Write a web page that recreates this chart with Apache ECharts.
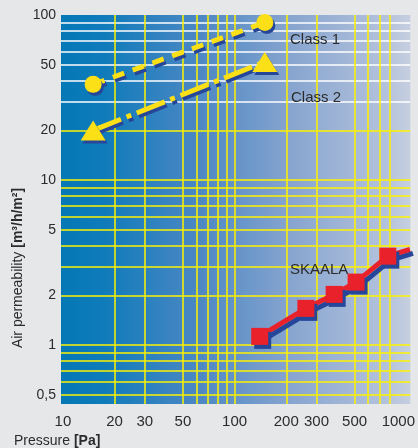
<!DOCTYPE html>
<html><head><meta charset="utf-8">
<script src="https://cdn.jsdelivr.net/npm/echarts@6/dist/echarts.min.js"></script>
<style>html,body{margin:0;padding:0;background:#e6e7e9;}#c{width:418px;height:448px;}</style>
</head><body><div id="c"></div>
<script>
// Axis tick labels
const xTickLabels = [10, 20, 30, 50, 100, 200, 300, 500, 1000];
const yTickLabels = [0.5, 1, 2, 5, 10, 20, 50, 100];
// Grid line values
const xGridValues = [20, 30, 50, 60, 70, 80, 90, 100, 200, 300, 500, 600, 700, 800];
const yGridValues = [0.5, 0.6, 0.7, 0.8, 0.9, 1, 2, 3, 4, 5, 6, 7, 8, 9, 10, 20, 30, 40, 50, 60, 70, 80, 90];
// Series
const class1Pressure = [15, 150];
const class1Perm = [38, 90];
const class2Pressure = [15, 150];
const class2Perm = [20, 52];
const skaalaPressure = [140, 260, 380, 510, 780, 1050];
const skaalaPerm = [1.13, 1.67, 2.03, 2.41, 3.46, 3.8];

const FONT = "'Liberation Sans', Arial, sans-serif";
const YEL = '#fbe017';
const SHADOW = '#26469a';

function pairs(xs, ys) { return xs.map((x, i) => [x, ys[i]]); }

const chart = echarts.init(document.getElementById('c'), null, {renderer: 'canvas'});
const shadowStyle = {shadowColor: SHADOW, shadowBlur: 0, shadowOffsetX: 2, shadowOffsetY: 3};

chart.setOption({
  animation: false,
  backgroundColor: '#e6e7e9',
  grid: {
    left: 61, top: 15, right: 5, bottom: 44, show: true, borderWidth: 0,
    backgroundColor: {
      type: 'linear', x: 0, y: 0, x2: 1, y2: 0,
      colorStops: [
        {offset: 0, color: '#0478b6'},
        {offset: 0.12, color: '#0f7bba'},
        {offset: 0.4, color: '#4d88c4'},
        {offset: 0.65, color: '#86a4cf'},
        {offset: 0.93, color: '#b3c2dc'},
        {offset: 1, color: '#c6cfdf'}
      ]
    }
  },
  xAxis: {
    type: 'log', logBase: 10, min: 9.75, max: 1055,
    axisLine: {show: false},
    axisTick: {show: false, customValues: xGridValues},
    splitLine: {show: true, lineStyle: {color: '#fff200', width: 1.5}},
    axisLabel: {
      customValues: xTickLabels, margin: 10, color: '#2b2b2b', fontSize: 15, fontFamily: FONT,
      formatter: v => (v === 1000 ? '{e|1000}' : String(v)),
      rich: {e: {fontSize: 15, fontFamily: FONT, color: '#2b2b2b', padding: [0, 16, 0, 0]}}
    }
  },
  yAxis: {
    type: 'log', logBase: 10, min: 0.44, max: 100,
    axisLine: {show: false},
    axisTick: {show: false, customValues: yGridValues},
    splitLine: {show: true, lineStyle: {
      color: yGridValues.map(v => (v >= 30 ? '#ffffff' : '#fff200')), width: 1.5}},
    axisLabel: {
      customValues: yTickLabels, margin: 5, color: '#2b2b2b', fontSize: 14, fontFamily: FONT,
      formatter: v => (v === 0.5 ? '0,5' : String(v))
    }
  },
  series: [
    {
      name: 'Class 1', type: 'line', data: pairs(class1Pressure, class1Perm),
      symbol: 'circle', symbolSize: 17,
      lineStyle: Object.assign({color: YEL, width: 5, type: [12, 9], cap: 'butt'}, shadowStyle),
      itemStyle: Object.assign({color: YEL, borderWidth: 0}, shadowStyle),
      z: 5
    },
    {
      name: 'Class 2', type: 'line', data: pairs(class2Pressure, class2Perm),
      symbol: 'triangle', symbolSize: [25, 20],
      lineStyle: Object.assign({color: YEL, width: 5, type: [30, 6, 5, 6], cap: 'butt'}, shadowStyle),
      itemStyle: Object.assign({color: YEL, borderWidth: 0}, shadowStyle),
      z: 5
    },
    {
      name: 'SKAALA', type: 'line',
      data: pairs(skaalaPressure, skaalaPerm).map((p, i, a) =>
        i === a.length - 1 ? {value: p, symbol: 'none'} : p),
      symbol: 'rect', symbolSize: 17, clip: false,
      lineStyle: {color: '#e8212b', width: 5, shadowColor: SHADOW, shadowBlur: 0, shadowOffsetX: 3, shadowOffsetY: 4},
      itemStyle: {color: '#e8212b', borderWidth: 0, shadowColor: SHADOW, shadowBlur: 0, shadowOffsetX: 3, shadowOffsetY: 4},
      z: 5
    }
  ],
  graphic: [
    {type: 'text', x: 290, y: 40, z: 10, style: {text: 'Class 1', fill: '#2b2b2b', font: '15px ' + FONT, verticalAlign: 'middle'}},
    {type: 'text', x: 291, y: 98, z: 10, style: {text: 'Class 2', fill: '#2b2b2b', font: '15px ' + FONT, verticalAlign: 'middle'}},
    {type: 'text', x: 290, y: 270, z: 10, style: {text: 'SKAALA', fill: '#2b2b2b', font: '15px ' + FONT, verticalAlign: 'middle'}},
    {type: 'text', x: 14, y: 441, z: 10, style: {
      text: 'Pressure {b|[Pa]}', fill: '#2b2b2b', font: '14px ' + FONT, verticalAlign: 'middle',
      rich: {b: {fontWeight: 'bold', fontSize: 14, fontFamily: FONT, fill: '#2b2b2b'}}}},
    {type: 'text', x: 18, y: 268, rotation: Math.PI / 2, z: 10, style: {
      text: 'Air permeability {b|[m³/h/m²]}', fill: '#2b2b2b', font: '14px ' + FONT,
      align: 'center', verticalAlign: 'middle',
      rich: {b: {fontWeight: 'bold', fontSize: 14, fontFamily: FONT, fill: '#2b2b2b'}}}}
  ]
});
</script>
</body></html>
